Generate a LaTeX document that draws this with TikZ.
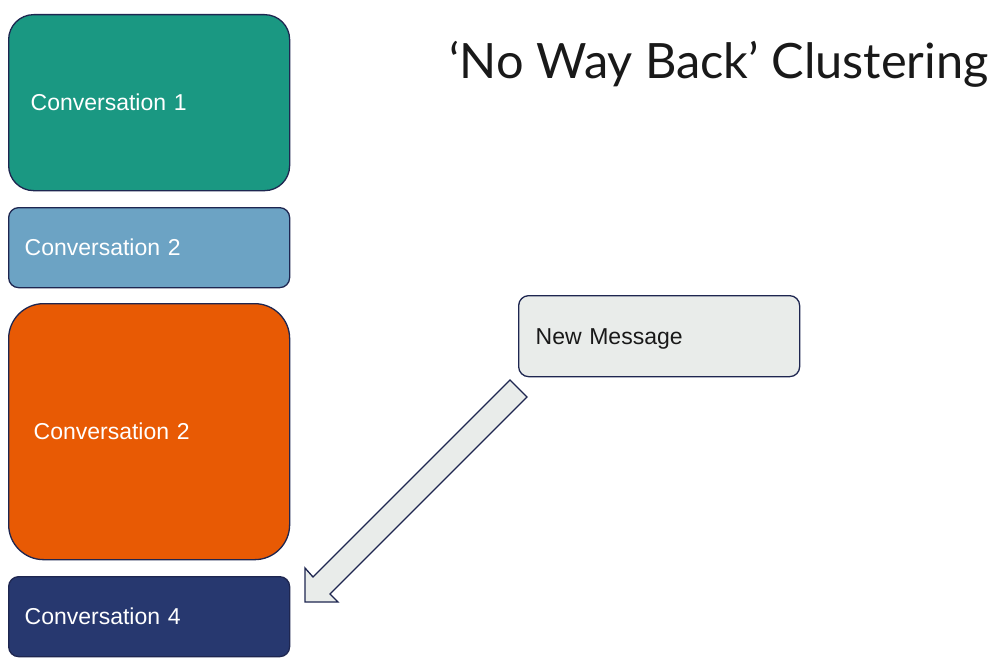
\documentclass[tikz,border=0pt]{standalone}
\usepackage{fontspec}
\newfontfamily\arialf{Liberation Sans}
\newfontfamily\latof{Lato}
\definecolor{cteal}{HTML}{1A9882}
\definecolor{cblue}{HTML}{6CA3C4}
\definecolor{corange}{HTML}{E85A04}
\definecolor{cnavy}{HTML}{27386F}
\definecolor{cgrey}{HTML}{E9ECEA}
\definecolor{cedge}{HTML}{1E2650}
\begin{document}
\begin{tikzpicture}[x=1pt,y=-1pt,
  box/.style={draw=cedge, line width=1.3pt, anchor=north west, align=left,
    font=\arialf\fontsize{23}{27}\selectfont, text=white, inner ysep=0pt},
  arrowshape/.style={draw=cedge, fill=cgrey, line width=1.3pt, line join=miter}]
\useasboundingbox (0,0) rectangle (1000,666);
\fill[white] (0,0) rectangle (1000,666);

\node[box, fill=cteal, rounded corners=25pt, minimum height=176pt,
  inner xsep=22pt, text width=237pt] (c1) at (8,14) {Conversation 1};
\node[box, fill=cblue, rounded corners=10pt, minimum height=80pt,
  inner xsep=16pt, text width=249pt] (c2) at (8,207) {Conversation 2};
\node[box, fill=corange, rounded corners=35pt, minimum height=256pt,
  inner xsep=25pt, text width=231pt] (c3) at (8,303) {Conversation 2};
\node[box, fill=cnavy, rounded corners=10pt, minimum height=80pt,
  inner xsep=16pt, text width=249pt] (c4) at (8,576) {Conversation 4};
\node[box, fill=cgrey, text=black!90, rounded corners=10pt, minimum height=81pt,
  inner xsep=17pt, text width=247pt, text depth=0pt] (msg) at (518,295) {New Message};

\node[font=\latof\fontsize{48.7}{56}\selectfont, text=black!90, anchor=base]
  (title) at (719,79) {‘No Way Back’ Clustering};

\coordinate (t1) at (510,380);
\coordinate (j1) at (313,577);
\coordinate (h1) at (305,568);
\coordinate (tip) at (305,602);
\coordinate (h2) at (338,602);
\coordinate (j2) at (330,594);
\coordinate (t2) at (527,397);
\draw[arrowshape] (t1) -- (j1) -- (h1) -- (tip) -- (h2) -- (j2) -- (t2) -- cycle;
\end{tikzpicture}
\end{document}
